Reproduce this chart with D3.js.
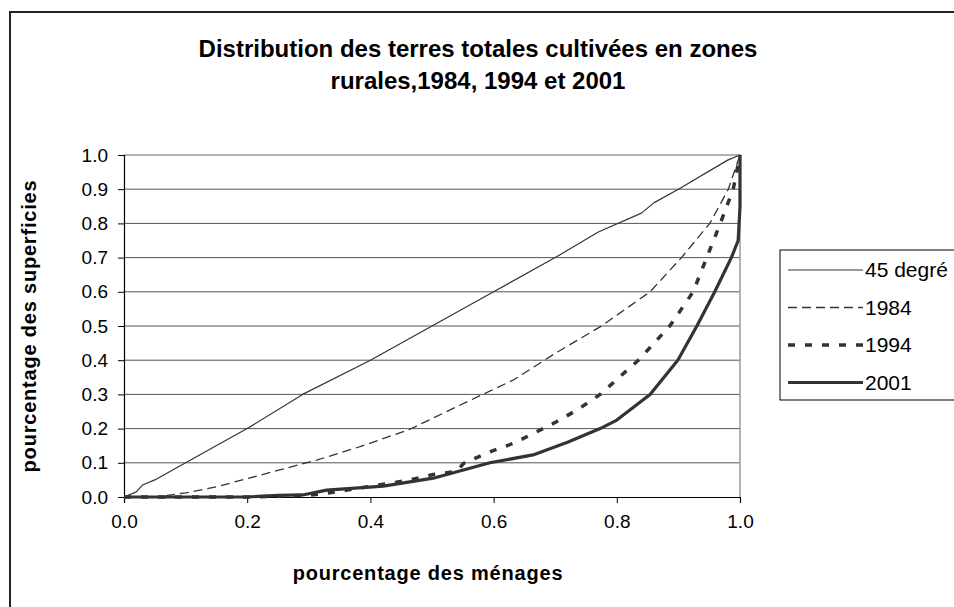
<!DOCTYPE html>
<html lang="fr">
<head>
<meta charset="UTF-8">
<title>Distribution des terres</title>
<script src="https://d3js.org/d3.v7.min.js"></script>
<style>
  body { margin: 0; background: #fff; }
  svg text { font-family: "Liberation Sans", Arial, sans-serif; fill: #000; }
  .grid line { stroke: #555; stroke-width: 1; }
  .axis path, .axis line { stroke: #000; }
  .axis text { font-size: 19px; }
</style>
</head>
<body>
<svg id="chart" width="954" height="607"></svg>
<script>
// values (x = share of households, y = share of land)
var x45 = [0, 0.02, 0.03, 0.05, 0.1, 0.2, 0.29, 0.4, 0.5, 0.6, 0.7, 0.77, 0.84, 0.86, 0.9, 0.98, 1];
var y45 = [0, 0.015, 0.035, 0.05, 0.1, 0.2, 0.3, 0.4, 0.5, 0.6, 0.7, 0.775, 0.83, 0.86, 0.9, 0.985, 1];

var x1984 = [0, 0.05, 0.1, 0.15, 0.205, 0.248, 0.313, 0.383, 0.464, 0.54, 0.632, 0.7, 0.775, 0.854, 0.905, 0.951, 0.981, 1];
var y1984 = [0, 0, 0.012, 0.03, 0.056, 0.077, 0.108, 0.147, 0.198, 0.264, 0.342, 0.42, 0.5, 0.6, 0.7, 0.8, 0.9, 1];

var x1994 = [0, 0.2, 0.3, 0.329, 0.424, 0.464, 0.502, 0.54, 0.551, 0.594, 0.632, 0.665, 0.702, 0.735, 0.773, 0.835, 0.886, 0.924, 0.946, 0.968, 0.989, 1];
var y1994 = [0, 0, 0.005, 0.011, 0.038, 0.05, 0.066, 0.075, 0.098, 0.132, 0.157, 0.186, 0.22, 0.254, 0.3, 0.4, 0.5, 0.6, 0.7, 0.8, 0.9, 1];

var x2001 = [0, 0.2, 0.25, 0.29, 0.329, 0.421, 0.502, 0.594, 0.664, 0.72, 0.773, 0.8, 0.854, 0.899, 0.93, 0.959, 0.986, 0.997, 1, 1];
var y2001 = [0, 0, 0.005, 0.006, 0.02, 0.032, 0.055, 0.1, 0.123, 0.16, 0.2, 0.225, 0.3, 0.4, 0.5, 0.6, 0.7, 0.75, 0.85, 1];

var seriesNames = ["45 degré", "1984", "1994", "2001"];
var xTicks = [0, 0.2, 0.4, 0.6, 0.8, 1.0];
var yTicks = [0, 0.1, 0.2, 0.3, 0.4, 0.5, 0.6, 0.7, 0.8, 0.9, 1.0];

var styles = [
  { width: 1.2, dash: null },
  { width: 1.3, dash: "9,5" },
  { width: 3.5, dash: "7,10" },
  { width: 3.2, dash: null }
];
var xs = [x45, x1984, x1994, x2001];
var ys = [y45, y1984, y1994, y2001];

var svg = d3.select("#chart");
var pLeft = 124, pRight = 740, pTop = 155, pBottom = 497;

var x = d3.scaleLinear().domain([0, 1]).range([pLeft, pRight]);
var y = d3.scaleLinear().domain([0, 1]).range([pBottom, pTop]);

// outer frame
svg.append("rect").attr("x", 10).attr("y", 12).attr("width", 960).attr("height", 620)
  .attr("fill", "none").attr("stroke", "#222").attr("stroke-width", 2);

// title
var title = svg.append("text").attr("text-anchor", "middle")
  .style("font-size", "24px").style("font-weight", "bold");
title.append("tspan").attr("x", 478).attr("y", 57).text("Distribution des terres totales cultivées en zones");
title.append("tspan").attr("x", 478).attr("y", 89).text("rurales,1984, 1994 et 2001");

// gridlines
svg.append("g").attr("class", "grid")
  .selectAll("line").data(yTicks.slice(1, -1)).enter().append("line")
  .attr("x1", pLeft).attr("x2", pRight)
  .attr("y1", function(d) { return y(d); }).attr("y2", function(d) { return y(d); });

// top and right border of plot area (grey)
svg.append("path")
  .attr("d", "M" + pLeft + "," + pTop + "H" + pRight + "V" + pBottom)
  .attr("fill", "none").attr("stroke", "#999").attr("stroke-width", 1.5);

// axes
svg.append("g").attr("class", "axis")
  .attr("transform", "translate(0," + pBottom + ")")
  .call(d3.axisBottom(x).tickValues(xTicks).tickFormat(d3.format(".1f")).tickSize(6).tickPadding(12));
svg.append("g").attr("class", "axis")
  .attr("transform", "translate(" + pLeft + ",0)")
  .call(d3.axisLeft(y).tickValues(yTicks).tickFormat(d3.format(".1f")).tickSize(6).tickPadding(10));
svg.selectAll(".axis .domain").attr("stroke-width", 1.2);

// axis titles
svg.append("text").attr("x", 428).attr("y", 580).attr("text-anchor", "middle")
  .style("font-size", "20px").style("font-weight", "bold").style("letter-spacing", "0.8px")
  .text("pourcentage des ménages");
svg.append("text").attr("transform", "translate(36," + ((pTop + pBottom) / 2) + ") rotate(-90)")
  .attr("text-anchor", "middle")
  .style("font-size", "20px").style("font-weight", "bold").style("letter-spacing", "0.8px")
  .text("pourcentage des superficies");

// curves
var line = d3.line().x(function(d) { return x(d[0]); }).y(function(d) { return y(d[1]); });
xs.forEach(function(xv, i) {
  var pts = xv.map(function(v, j) { return [v, ys[i][j]]; });
  svg.append("path").datum(pts).attr("d", line)
    .attr("fill", "none").attr("stroke", "#333")
    .attr("stroke-width", styles[i].width)
    .attr("stroke-dasharray", styles[i].dash)
    .attr("stroke-linejoin", "round");
});

// legend
var lg = svg.append("g").attr("transform", "translate(780,250)");
lg.append("rect").attr("width", 200).attr("height", 150)
  .attr("fill", "#fff").attr("stroke", "#000").attr("stroke-width", 1);
seriesNames.forEach(function(name, i) {
  var cy = 20 + i * 37.5;
  lg.append("line").attr("x1", 8).attr("x2", 83).attr("y1", cy).attr("y2", cy)
    .attr("stroke", "#333").attr("stroke-width", styles[i].width)
    .attr("stroke-dasharray", styles[i].dash);
  lg.append("text").attr("x", 85).attr("y", cy + 7).style("font-size", "21px").text(name);
});
</script>
</body>
</html>
